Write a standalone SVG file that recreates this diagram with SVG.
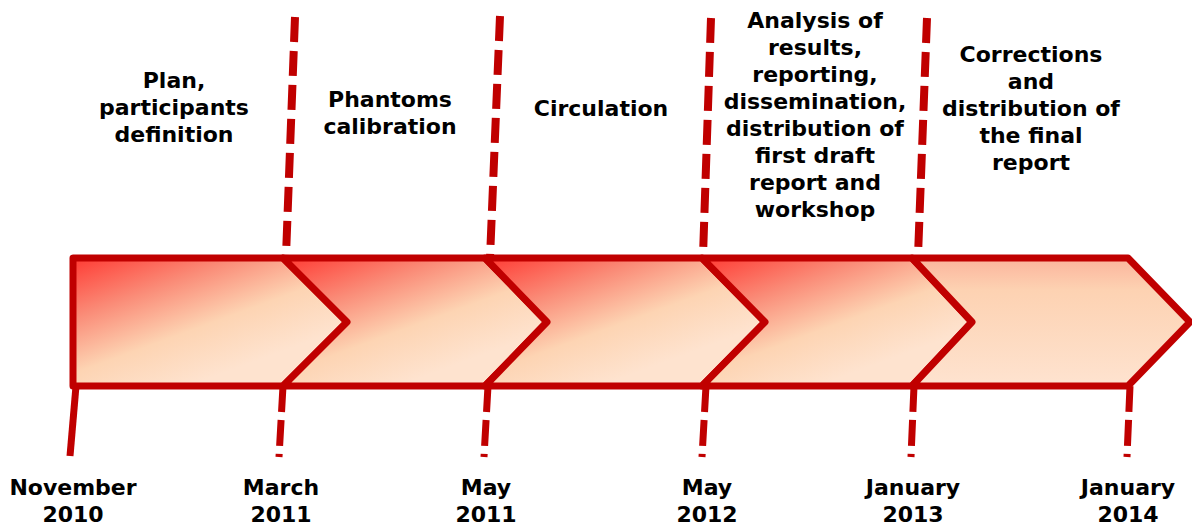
<svg xmlns="http://www.w3.org/2000/svg" xmlns:xlink="http://www.w3.org/1999/xlink" width="1192" height="527" viewBox="0 0 1192 527">
  <style>
    .lbl { font-family: "DejaVu Sans", Verdana, sans-serif; font-weight: bold; font-size: 22px; fill: #000; text-anchor: middle; }
    .shape { stroke: #C00000; stroke-width: 7; stroke-linejoin: round; }
    .dash-top { stroke: #C00000; stroke-width: 8; fill: none; stroke-dasharray: 25 9; }
    .dash-bot { stroke: #C00000; stroke-width: 7; fill: none; stroke-dasharray: 26 8; }
    .solid { stroke: #C00000; stroke-width: 7; fill: none; }
  </style>
  <defs>
    <linearGradient id="gbase">
      <stop offset="0" stop-color="#FF3A33"/>
      <stop offset="0.35" stop-color="#FA8B77"/>
      <stop offset="0.68" stop-color="#FDD4B3"/>
      <stop offset="1" stop-color="#FEE3CF"/>
    </linearGradient>
    <linearGradient id="g1" xlink:href="#gbase" gradientUnits="userSpaceOnUse" x1="73" y1="258" x2="128" y2="408"/>
    <linearGradient id="g2" xlink:href="#gbase" gradientUnits="userSpaceOnUse" x1="283" y1="258" x2="338" y2="408"/>
    <linearGradient id="g3" xlink:href="#gbase" gradientUnits="userSpaceOnUse" x1="485" y1="258" x2="540" y2="408"/>
    <linearGradient id="g4" xlink:href="#gbase" gradientUnits="userSpaceOnUse" x1="702" y1="258" x2="757" y2="408"/>
    <linearGradient id="g5" gradientUnits="userSpaceOnUse" x1="0" y1="258" x2="0" y2="386">
      <stop offset="0" stop-color="#FBB49C"/>
      <stop offset="0.25" stop-color="#FDD2B2"/>
      <stop offset="1" stop-color="#FEE3D0"/>
    </linearGradient>
  </defs>

  <g id="connectors">
    <line class="dash-top" x1="295" y1="17" x2="286" y2="256"/>
    <line class="dash-top" x1="500" y1="16" x2="490" y2="258"/>
    <line class="dash-top" x1="711" y1="18" x2="703" y2="256"/>
    <line class="dash-top" x1="927" y1="18" x2="918" y2="256"/>
    <line class="solid" x1="76" y1="386" x2="70" y2="456"/>
    <line class="dash-bot" x1="283" y1="386" x2="279" y2="457"/>
    <line class="dash-bot" x1="488" y1="386" x2="484" y2="457"/>
    <line class="dash-bot" x1="706" y1="386" x2="702" y2="457"/>
    <line class="dash-bot" x1="914" y1="386" x2="911" y2="457"/>
    <line class="dash-bot" x1="1130" y1="386" x2="1127" y2="457"/>
  </g>

  <g id="phase1">
    <path class="shape" fill="url(#g1)" d="M73,258 H283 L347,322 L283,386 H73 Z"/>
    <text class="lbl" x="174" y="88">Plan,</text>
    <text class="lbl" x="174" y="115">participants</text>
    <text class="lbl" x="174" y="142">definition</text>
  </g>
  <g id="phase2">
    <path class="shape" fill="url(#g2)" d="M283,258 H485 L547,322 L485,386 H283 L347,322 Z"/>
    <text class="lbl" x="390" y="107">Phantoms</text>
    <text class="lbl" x="390" y="134">calibration</text>
  </g>
  <g id="phase3">
    <path class="shape" fill="url(#g3)" d="M485,258 H702 L765,322 L702,386 H485 L547,322 Z"/>
    <text class="lbl" x="601" y="116">Circulation</text>
  </g>
  <g id="phase4">
    <path class="shape" fill="url(#g4)" d="M702,258 H912 L972,322 L912,386 H702 L765,322 Z"/>
    <text class="lbl" x="815" y="28">Analysis of</text>
    <text class="lbl" x="815" y="55">results,</text>
    <text class="lbl" x="815" y="82">reporting,</text>
    <text class="lbl" x="815" y="109">dissemination,</text>
    <text class="lbl" x="815" y="136">distribution of</text>
    <text class="lbl" x="815" y="163">first draft</text>
    <text class="lbl" x="815" y="190">report and</text>
    <text class="lbl" x="815" y="217">workshop</text>
  </g>
  <g id="phase5">
    <path class="shape" fill="url(#g5)" d="M912,258 H1128 L1190,322 L1128,386 H912 L972,322 Z"/>
    <text class="lbl" x="1031" y="62">Corrections</text>
    <text class="lbl" x="1031" y="89">and</text>
    <text class="lbl" x="1031" y="116">distribution of</text>
    <text class="lbl" x="1031" y="143">the final</text>
    <text class="lbl" x="1031" y="170">report</text>
  </g>

  <g id="dates">
    <text class="lbl" x="73" y="495">November</text>
    <text class="lbl" x="73" y="522">2010</text>
    <text class="lbl" x="281" y="495">March</text>
    <text class="lbl" x="281" y="522">2011</text>
    <text class="lbl" x="486" y="495">May</text>
    <text class="lbl" x="486" y="522">2011</text>
    <text class="lbl" x="707" y="495">May</text>
    <text class="lbl" x="707" y="522">2012</text>
    <text class="lbl" x="913" y="495">January</text>
    <text class="lbl" x="913" y="522">2013</text>
    <text class="lbl" x="1128" y="495">January</text>
    <text class="lbl" x="1128" y="522">2014</text>
  </g>
</svg>
